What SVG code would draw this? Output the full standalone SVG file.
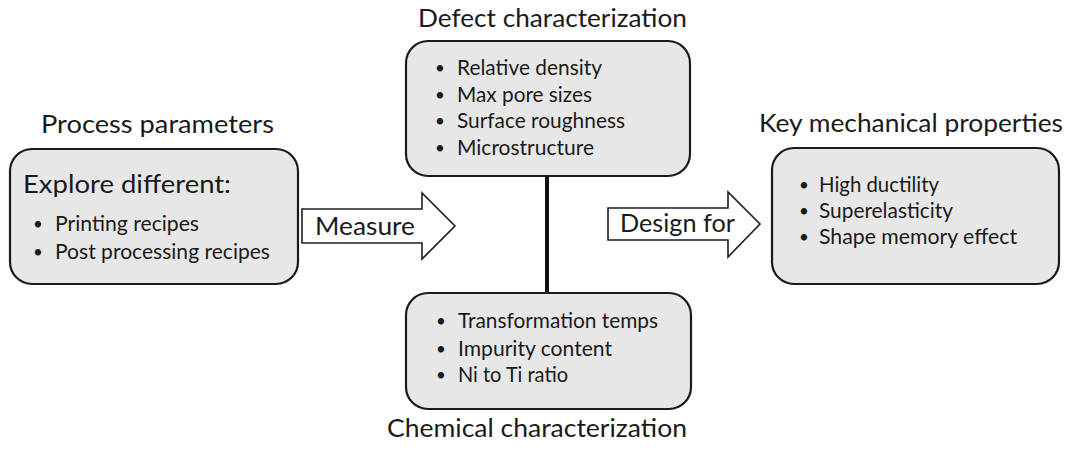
<svg xmlns="http://www.w3.org/2000/svg" width="1075" height="450" viewBox="0 0 1075 450">
<style>
.box{fill:#e7e7e7;stroke:#1a1a1a;stroke-width:2.2}
.t{font-family:Lato,"Liberation Sans",sans-serif;fill:#1a1a1a}
.title{font-size:25px}
.big{font-size:25px}
.item{font-size:21px}
.b{font-family:Lato,"Liberation Sans",sans-serif;fill:#1a1a1a;font-size:17px}
.arrow{fill:#ffffff;stroke:#1e1e1e;stroke-width:1.6;stroke-linejoin:miter}
</style>
<rect width="1075" height="450" fill="#ffffff"/>
<g id="connectors">
<line x1="547" y1="176" x2="547" y2="293" stroke="#111" stroke-width="4"/>
</g>
<g id="process">
<text class="t title" x="41" y="133" textLength="233" lengthAdjust="spacingAndGlyphs">Process parameters</text>
<rect class="box" x="10" y="149" width="288" height="135" rx="22"/>
<text class="t big" x="23" y="193" textLength="208" lengthAdjust="spacingAndGlyphs">Explore different:</text>
<text class="b" x="33" y="230">•</text>
<text class="t item" x="55" y="231" textLength="144" lengthAdjust="spacingAndGlyphs">Printing recipes</text>
<text class="b" x="33" y="258">•</text>
<text class="t item" x="55" y="259" textLength="215" lengthAdjust="spacingAndGlyphs">Post processing recipes</text>
</g>
<g id="measure">
<path class="arrow" d="M302,209 H422 V193 L455,226 L422,259 V243 H302 Z"/>
<text class="t big" x="315" y="235" textLength="100" lengthAdjust="spacingAndGlyphs">Measure</text>
</g>
<g id="defect">
<text class="t title" x="418" y="27" textLength="269" lengthAdjust="spacingAndGlyphs">Defect characterization</text>
<rect class="box" x="406" y="41" width="284" height="135" rx="22"/>
<text class="b" x="435" y="74">•</text>
<text class="t item" x="457" y="75" textLength="145" lengthAdjust="spacingAndGlyphs">Relative density</text>
<text class="b" x="435" y="101">•</text>
<text class="t item" x="457" y="102" textLength="135" lengthAdjust="spacingAndGlyphs">Max pore sizes</text>
<text class="b" x="435" y="127">•</text>
<text class="t item" x="457" y="128" textLength="168" lengthAdjust="spacingAndGlyphs">Surface roughness</text>
<text class="b" x="435" y="154">•</text>
<text class="t item" x="457" y="155" textLength="137" lengthAdjust="spacingAndGlyphs">Microstructure</text>
</g>
<g id="chemical">
<rect class="box" x="406" y="293" width="285" height="116" rx="22"/>
<text class="b" x="436" y="327">•</text>
<text class="t item" x="458" y="328" textLength="200" lengthAdjust="spacingAndGlyphs">Transformation temps</text>
<text class="b" x="436" y="355">•</text>
<text class="t item" x="458" y="356" textLength="154" lengthAdjust="spacingAndGlyphs">Impurity content</text>
<text class="b" x="436" y="381">•</text>
<text class="t item" x="458" y="382" textLength="110" lengthAdjust="spacingAndGlyphs">Ni to Ti ratio</text>
<text class="t title" x="387" y="437" textLength="300" lengthAdjust="spacingAndGlyphs">Chemical characterization</text>
</g>
<g id="designfor">
<path class="arrow" d="M608,208 H728 V192 L760,224 L728,257 V240 H608 Z"/>
<text class="t big" x="620" y="232" textLength="115" lengthAdjust="spacingAndGlyphs">Design for</text>
</g>
<g id="properties">
<text class="t title" x="759" y="132" textLength="304" lengthAdjust="spacingAndGlyphs">Key mechanical properties</text>
<rect class="box" x="772" y="148" width="287" height="136" rx="22"/>
<text class="b" x="799" y="191">•</text>
<text class="t item" x="819" y="192" textLength="120" lengthAdjust="spacingAndGlyphs">High ductility</text>
<text class="b" x="799" y="217">•</text>
<text class="t item" x="819" y="218" textLength="134" lengthAdjust="spacingAndGlyphs">Superelasticity</text>
<text class="b" x="799" y="243">•</text>
<text class="t item" x="819" y="244" textLength="198" lengthAdjust="spacingAndGlyphs">Shape memory effect</text>
</g>
</svg>
